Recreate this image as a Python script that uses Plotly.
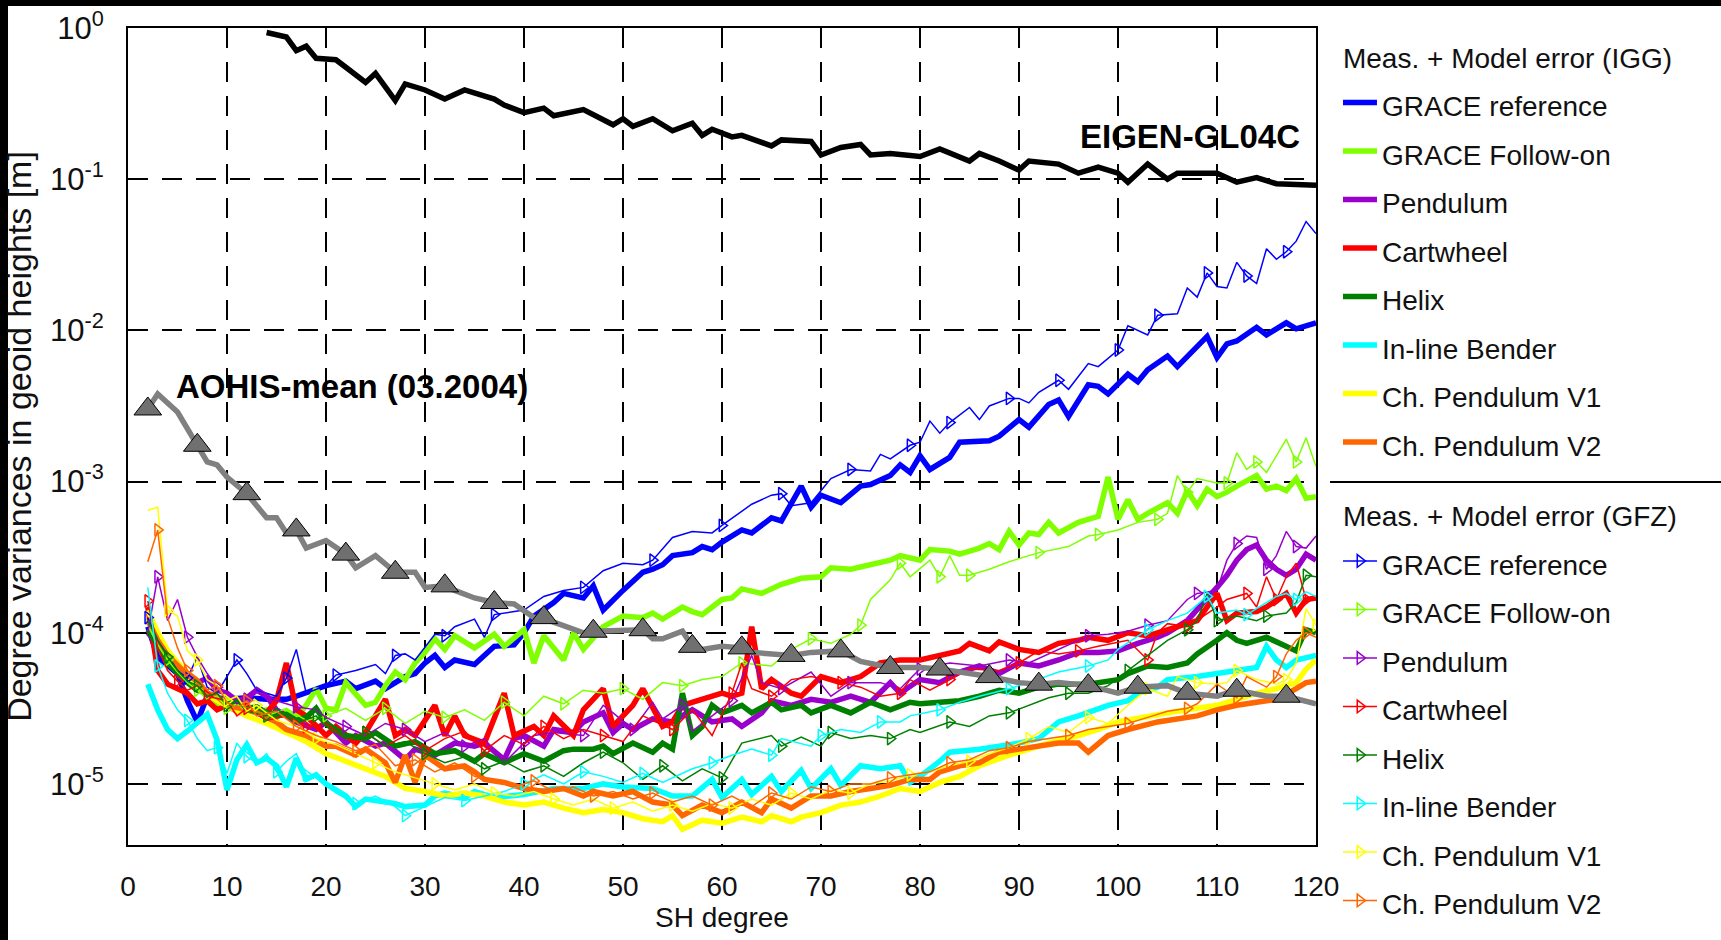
import plotly.graph_objects as go

# ---------------- data: (SH degree, log10 of degree variance in geoid heights [m]) ----------------
eigen_gl04c = [(14,-0.03),(16,-0.06),(17,-0.15),(18,-0.12),(19,-0.20),(21,-0.21),(22,-0.26),(24,-0.36),(25,-0.30),
    (27,-0.48),(28,-0.37),(30,-0.41),(32,-0.47),(34,-0.41),(37,-0.47),(38,-0.51),(40,-0.56),(42,-0.53),(43,-0.58),
    (46,-0.54),(49,-0.64),(50,-0.60),(51,-0.65),(53,-0.60),(55,-0.68),(57,-0.63),(58,-0.71),(59,-0.67),(61,-0.72),
    (62,-0.71),(65,-0.78),(66,-0.74),(69,-0.75),(70,-0.84),(72,-0.79),(74,-0.77),(75,-0.84),(77,-0.83),(80,-0.85),
    (82,-0.80),(85,-0.88),(86,-0.83),(88,-0.88),(90,-0.94),(91,-0.88),(94,-0.90),(96,-0.96),(98,-0.92),(100,-0.96),
    (101,-1.02),(103,-0.90),(105,-1.00),(106,-0.96),(110,-0.96),(112,-1.02),(114,-0.99),(116,-1.03),(120,-1.04)]

aohis_mean = [(2,-2.52),(3,-2.42),(5,-2.54),(7,-2.76),(8,-2.87),(9,-2.89),(10,-2.97),(12,-3.08),(13,-3.16),(14,-3.24),
    (15,-3.24),(16,-3.34),(17,-3.32),(18,-3.44),(20,-3.39),(22,-3.48),(23,-3.57),(25,-3.49),(27,-3.60),(29,-3.60),
    (30,-3.70),(32,-3.69),(33,-3.72),(35,-3.77),(37,-3.80),(39,-3.81),(41,-3.90),(42,-3.90),(43,-3.93),(45,-3.98),
    (46,-4.00),(47,-3.99),(50,-3.98),(52,-3.98),(53,-4.04),(54,-4.04),(56,-3.99),(57,-4.09),(58,-4.11),(60,-4.09),
    (62,-4.10),(63,-4.13),(67,-4.15),(69,-4.13),(72,-4.12),(74,-4.19),(77,-4.23),(80,-4.23),(82,-4.24),(84,-4.26),
    (87,-4.29),(90,-4.33),(92,-4.34),(94,-4.33),(97,-4.35),(100,-4.40),(102,-4.36),(105,-4.35),(107,-4.40),
    (110,-4.42),(112,-4.38),(115,-4.42),(117,-4.42),(120,-4.47)]

# IGG (thick lines)
igg_grace_ref = [(2,-3.96),(3,-4.16),(5,-4.27),(6,-4.45),(7,-4.59),(8,-4.42),(10,-4.44),(12,-4.43),(14,-4.44),(16,-4.44),
    (17,-4.42),(19,-4.37),(20,-4.35),(22,-4.32),(23,-4.37),(25,-4.32),(26,-4.37),(28,-4.29),(29,-4.27),(30,-4.20),
    (31,-4.15),(32,-4.23),(33,-4.18),(35,-4.21),(37,-4.09),(39,-4.08),(40,-4.00),(41,-3.89),(43,-3.80),(44,-3.74),
    (46,-3.77),(47,-3.69),(48,-3.85),(50,-3.72),(52,-3.60),(53,-3.58),(54,-3.55),(55,-3.49),(57,-3.47),(58,-3.43),
    (59,-3.45),(60,-3.40),(62,-3.32),(63,-3.34),(65,-3.24),(66,-3.26),(67,-3.15),(68,-3.03),(69,-3.17),(70,-3.09),
    (72,-3.14),(74,-3.03),(75,-3.02),(77,-2.96),(78,-2.89),(79,-2.94),(80,-2.83),(81,-2.92),(83,-2.84),(84,-2.74),
    (87,-2.73),(88,-2.70),(90,-2.59),(91,-2.64),(93,-2.49),(94,-2.46),(95,-2.57),(97,-2.36),(98,-2.37),(99,-2.42),
    (101,-2.29),(102,-2.34),(103,-2.26),(105,-2.17),(106,-2.24),(109,-2.04),(110,-2.18),(111,-2.09),(112,-2.07),
    (114,-1.98),(115,-2.03),(117,-1.95),(118,-1.99),(120,-1.95)]
igg_grace_fo = [(2,-3.90),(3,-4.02),(4,-4.12),(5,-4.22),(6,-4.30),(7,-4.36),(8,-4.40),(9,-4.47),(10,-4.44),(11,-4.50),
    (12,-4.48),(13,-4.53),(14,-4.51),(15,-4.56),(16,-4.52),(17,-4.56),(18,-4.48),(19,-4.37),(20,-4.50),(21,-4.51),
    (22,-4.33),(23,-4.40),(24,-4.48),(25,-4.46),(26,-4.35),(27,-4.26),(28,-4.31),(29,-4.20),(30,-4.13),(31,-4.04),
    (32,-4.11),(33,-4.02),(35,-4.10),(37,-4.01),(38,-4.09),(40,-3.98),(41,-4.20),(42,-4.02),(44,-4.18),(45,-4.00),
    (46,-4.11),(48,-3.96),(49,-3.93),(50,-3.89),(52,-3.90),(53,-3.87),(54,-3.91),(56,-3.83),(57,-3.86),(58,-3.88),
    (60,-3.78),(61,-3.77),(62,-3.71),(64,-3.74),(66,-3.68),(68,-3.64),(70,-3.63),(71,-3.57),(73,-3.58),(75,-3.55),
    (77,-3.52),(78,-3.49),(80,-3.52),(81,-3.45),(83,-3.46),(84,-3.48),(86,-3.44),(87,-3.41),(88,-3.45),(89,-3.33),
    (90,-3.42),(91,-3.34),(92,-3.35),(93,-3.27),(94,-3.34),(96,-3.27),(97,-3.25),(98,-3.23),(99,-2.97),(100,-3.25),
    (101,-3.12),(102,-3.25),(103,-3.21),(105,-3.14),(106,-3.21),(107,-3.06),(108,-3.16),(109,-3.05),(110,-3.10),
    (111,-3.07),(112,-3.03),(114,-2.96),(115,-3.05),(116,-3.03),(117,-3.06),(118,-2.98),(119,-3.11),(120,-3.10)]
igg_pendulum = [(2,-4.00),(3,-4.08),(4,-4.15),(5,-4.22),(6,-4.28),(7,-4.33),(8,-4.30),(9,-4.38),(10,-4.40),(11,-4.45),
    (12,-4.43),(13,-4.38),(14,-4.42),(15,-4.51),(16,-4.55),(17,-4.59),(19,-4.64),(20,-4.59),(22,-4.73),(23,-4.68),
    (25,-4.75),(26,-4.73),(28,-4.84),(29,-4.77),(31,-4.81),(32,-4.77),(33,-4.73),(35,-4.75),(36,-4.73),(38,-4.84),
    (39,-4.70),(40,-4.68),(42,-4.75),(43,-4.64),(45,-4.66),(46,-4.59),(48,-4.53),(49,-4.66),(50,-4.60),(51,-4.64),
    (53,-4.57),(55,-4.59),(57,-4.51),(59,-4.59),(61,-4.57),(62,-4.62),(64,-4.53),(65,-4.45),(67,-4.48),(69,-4.44),
    (71,-4.46),(73,-4.42),(75,-4.46),(77,-4.33),(78,-4.40),(80,-4.31),(82,-4.33),(84,-4.26),(86,-4.22),(88,-4.27),
    (90,-4.20),(92,-4.22),(94,-4.18),(96,-4.13),(98,-4.13),(100,-4.12),(102,-4.07),(104,-4.03),(105,-4.00),
    (107,-3.92),(108,-3.85),(109,-3.78),(110,-3.70),(111,-3.62),(112,-3.52),(113,-3.45),(114,-3.42),(115,-3.52),
    (116,-3.58),(117,-3.62),(118,-3.58),(119,-3.48),(120,-3.52)]
igg_cartwheel = [(2,-3.83),(3,-4.25),(4,-4.34),(6,-4.40),(7,-4.47),(8,-4.45),(9,-4.51),(10,-4.48),(11,-4.52),(12,-4.50),
    (13,-4.52),(14,-4.53),(15,-4.45),(16,-4.20),(17,-4.51),(18,-4.55),(20,-4.68),(21,-4.62),(23,-4.73),(24,-4.66),
    (26,-4.44),(27,-4.68),(28,-4.64),(29,-4.68),(31,-4.48),(32,-4.68),(33,-4.55),(34,-4.68),(36,-4.73),(38,-4.40),
    (39,-4.68),(41,-4.62),(42,-4.68),(43,-4.55),(45,-4.68),(46,-4.51),(48,-4.37),(49,-4.62),(51,-4.48),(52,-4.37),
    (54,-4.62),(55,-4.59),(56,-4.48),(58,-4.44),(60,-4.40),(61,-4.42),(62,-4.40),(63,-3.96),(64,-4.37),(65,-4.31),
    (67,-4.40),(68,-4.42),(70,-4.29),(72,-4.33),(74,-4.29),(76,-4.20),(78,-4.18),(80,-4.18),(82,-4.15),(84,-4.12),
    (85,-4.07),(87,-4.12),(88,-4.06),(90,-4.11),(92,-4.13),(94,-4.07),(96,-4.05),(97,-4.03),(99,-4.05),(101,-4.00),
    (103,-4.02),(105,-3.98),(107,-3.94),(108,-3.92),(110,-3.74),(111,-3.92),(112,-3.87),(114,-3.86),(115,-3.83),
    (116,-3.78),(117,-3.74),(118,-3.87),(119,-3.78),(120,-3.77)]
igg_helix = [(2,-3.98),(3,-4.08),(4,-4.20),(5,-4.27),(6,-4.33),(7,-4.38),(8,-4.40),(9,-4.45),(10,-4.47),(11,-4.46),
    (12,-4.50),(13,-4.49),(14,-4.53),(15,-4.55),(16,-4.54),(17,-4.58),(18,-4.56),(19,-4.50),(20,-4.60),(22,-4.68),
    (24,-4.70),(25,-4.66),(27,-4.75),(29,-4.72),(31,-4.80),(33,-4.78),(35,-4.85),(36,-4.80),(38,-4.86),(40,-4.80),
    (42,-4.85),(44,-4.78),(45,-4.77),(47,-4.77),(48,-4.75),(49,-4.80),(51,-4.73),(53,-4.79),(54,-4.73),(55,-4.77),
    (56,-4.40),(57,-4.68),(58,-4.62),(59,-4.48),(60,-4.53),(62,-4.48),(63,-4.53),(65,-4.46),(66,-4.51),(68,-4.48),
    (69,-4.53),(71,-4.48),(73,-4.53),(75,-4.46),(77,-4.51),(79,-4.46),(80,-4.47),(82,-4.46),(84,-4.45),(86,-4.42),
    (88,-4.38),(90,-4.40),(92,-4.36),(94,-4.34),(97,-4.34),(100,-4.31),(101,-4.27),(103,-4.22),(105,-4.23),
    (107,-4.20),(108,-4.14),(110,-4.05),(111,-4.00),(112,-4.05),(113,-4.07),(115,-4.03),(116,-4.06),(118,-4.12),
    (119,-3.98),(120,-4.00)]
igg_inline = [(2,-4.34),(3,-4.51),(4,-4.64),(5,-4.70),(6,-4.65),(7,-4.60),(8,-4.54),(9,-4.71),(10,-5.04),(11,-4.84),
    (12,-4.74),(13,-4.86),(14,-4.83),(15,-4.88),(16,-5.02),(17,-4.83),(18,-4.97),(19,-4.94),(20,-5.00),(21,-5.04),
    (22,-5.08),(23,-5.15),(24,-5.10),(26,-5.12),(27,-5.13),(28,-5.15),(30,-5.14),(31,-5.08),(32,-5.06),(34,-5.09),
    (35,-5.05),(37,-5.09),(40,-5.07),(43,-5.03),(46,-5.03),(48,-5.00),(50,-5.02),(53,-5.03),(55,-5.08),(57,-5.08),
    (59,-4.97),(60,-5.09),(62,-4.97),(63,-5.07),(65,-4.95),(66,-5.05),(68,-4.91),(69,-5.03),(71,-4.90),(72,-5.01),
    (74,-4.88),(76,-4.90),(78,-4.88),(79,-4.99),(80,-4.95),(82,-4.85),(83,-4.79),(86,-4.77),(88,-4.75),(90,-4.73),
    (92,-4.70),(94,-4.59),(96,-4.55),(99,-4.48),(101,-4.45),(102,-4.40),(104,-4.36),(105,-4.31),(108,-4.29),
    (110,-4.27),(112,-4.25),(114,-4.23),(115,-4.09),(116,-4.18),(117,-4.23),(118,-4.18),(120,-4.15)]
igg_chp_v1 = [(2,-3.85),(3,-4.00),(4,-4.12),(5,-4.20),(6,-4.28),(7,-4.35),(8,-4.40),(9,-4.45),(10,-4.48),(11,-4.52),
    (12,-4.55),(14,-4.60),(16,-4.66),(18,-4.72),(20,-4.80),(22,-4.85),(24,-4.90),(26,-4.95),(28,-5.03),(30,-5.05),
    (32,-5.08),(34,-5.06),(36,-5.08),(38,-5.12),(40,-5.14),(42,-5.12),(44,-5.16),(46,-5.19),(48,-5.17),(50,-5.19),
    (52,-5.23),(54,-5.25),(55,-5.21),(56,-5.30),(58,-5.24),(60,-5.26),(62,-5.22),(64,-5.25),(65,-5.21),(67,-5.25),
    (68,-5.22),(70,-5.19),(72,-5.14),(74,-5.12),(76,-5.08),(78,-5.03),(80,-5.05),(82,-4.99),(84,-4.95),(86,-4.88),
    (89,-4.81),(91,-4.77),(93,-4.73),(96,-4.68),(98,-4.64),(100,-4.59),(103,-4.55),(105,-4.53),(107,-4.51),
    (110,-4.48),(112,-4.44),(114,-4.40),(116,-4.37),(118,-4.33),(119,-4.24),(120,-4.18)]
igg_chp_v2 = [(2,-3.92),(3,-4.05),(4,-4.15),(5,-4.22),(6,-4.28),(7,-4.32),(8,-4.40),(9,-4.42),(10,-4.48),(12,-4.51),
    (13,-4.53),(15,-4.59),(16,-4.64),(18,-4.68),(20,-4.75),(21,-4.75),(23,-4.81),(24,-4.77),(26,-4.86),(27,-4.99),
    (28,-4.81),(29,-4.99),(30,-4.81),(32,-4.90),(34,-4.88),(35,-4.92),(36,-4.97),(38,-4.99),(40,-5.03),(42,-5.05),
    (44,-5.03),(46,-5.08),(47,-5.05),(49,-5.08),(51,-5.05),(53,-5.12),(55,-5.14),(56,-5.21),(58,-5.14),(60,-5.19),
    (62,-5.12),(64,-5.19),(65,-5.10),(67,-5.16),(69,-5.08),(71,-5.08),(73,-5.05),(75,-5.03),(77,-5.01),(79,-4.97),
    (81,-4.97),(82,-4.92),(84,-4.88),(86,-4.86),(88,-4.79),(90,-4.77),(92,-4.75),(94,-4.73),(96,-4.73),(97,-4.79),
    (99,-4.68),(101,-4.64),(104,-4.59),(106,-4.57),(108,-4.55),(110,-4.51),(112,-4.48),(114,-4.46),(116,-4.44),
    (118,-4.37),(119,-4.33),(120,-4.32)]

# GFZ (thin lines with markers)
gfz_grace_ref = [(2,-3.90),(3,-4.05),(4,-4.15),(5,-4.25),(6,-4.30),(7,-4.16),(8,-4.36),(9,-4.40),(11,-4.18),(12,-4.27),
    (13,-4.38),(15,-4.42),(16,-4.30),(17,-4.11),(18,-4.40),(20,-4.35),(21,-4.28),(23,-4.25),(25,-4.21),(26,-4.27),
    (27,-4.15),(28,-4.14),(29,-4.18),(31,-4.01),(32,-4.02),(33,-3.96),(35,-3.91),(36,-4.03),(37,-3.88),(40,-3.85),
    (42,-3.76),(44,-3.72),(46,-3.70),(48,-3.59),(50,-3.54),(52,-3.55),(53,-3.52),(55,-3.37),(57,-3.33),(59,-3.34),
    (60,-3.29),(62,-3.20),(63,-3.15),(65,-3.09),(66,-3.08),(67,-3.16),(69,-3.14),(71,-2.98),(73,-2.92),(75,-2.93),
    (76,-2.82),(77,-2.85),(79,-2.76),(80,-2.74),(81,-2.60),(82,-2.68),(83,-2.61),(85,-2.51),(86,-2.59),(87,-2.50),
    (89,-2.45),(90,-2.45),(91,-2.48),(92,-2.41),(94,-2.33),(95,-2.39),(97,-2.22),(98,-2.24),(100,-2.13),(101,-1.97),
    (102,-2.00),(103,-2.03),(104,-1.90),(106,-1.89),(107,-1.72),(108,-1.78),(109,-1.62),(110,-1.71),(111,-1.72),
    (112,-1.55),(113,-1.64),(114,-1.69),(115,-1.46),(116,-1.53),(117,-1.48),(118,-1.41),(119,-1.28),(120,-1.36)]
gfz_grace_fo = [(2,-3.95),(3,-4.08),(4,-4.18),(5,-4.26),(6,-4.33),(7,-4.38),(8,-4.44),(9,-4.42),(10,-4.50),(11,-4.47),
    (12,-4.52),(14,-4.55),(16,-4.50),(18,-4.58),(20,-4.55),(22,-4.50),(24,-4.58),(26,-4.50),(28,-4.60),(30,-4.52),
    (32,-4.56),(34,-4.51),(36,-4.58),(38,-4.46),(40,-4.55),(42,-4.42),(44,-4.47),(46,-4.38),(48,-4.40),(50,-4.37),
    (52,-4.44),(54,-4.33),(56,-4.35),(58,-4.31),(60,-4.29),(62,-4.20),(65,-4.22),(67,-4.11),(69,-4.04),(71,-4.07),
    (73,-4.01),(74,-3.95),(75,-3.78),(77,-3.65),(78,-3.54),(79,-3.63),(81,-3.52),(82,-3.63),(83,-3.49),(84,-3.62),
    (85,-3.62),(87,-3.58),(89,-3.53),(92,-3.47),(95,-3.43),(97,-3.36),(98,-3.35),(100,-3.32),(102,-3.27),(104,-3.25),
    (105,-3.21),(106,-2.96),(107,-3.07),(108,-2.98),(110,-3.01),(111,-3.01),(112,-2.81),(113,-2.92),(114,-2.87),
    (115,-2.94),(117,-2.72),(118,-2.87),(119,-2.71),(120,-2.90)]
gfz_pendulum = [(2,-4.00),(3,-3.63),(4,-3.92),(5,-3.78),(6,-4.03),(7,-4.16),(8,-4.27),(9,-4.36),(10,-4.40),(11,-4.47),
    (12,-4.44),(13,-4.36),(15,-4.45),(17,-4.49),(19,-4.51),(20,-4.56),(22,-4.62),(24,-4.68),(26,-4.60),(28,-4.64),
    (30,-4.72),(32,-4.66),(34,-4.75),(36,-4.70),(38,-4.86),(40,-4.73),(41,-4.68),(43,-4.66),(46,-4.68),(48,-4.48),
    (49,-4.53),(51,-4.64),(53,-4.46),(54,-4.57),(56,-4.48),(57,-4.65),(59,-4.55),(61,-4.45),(63,-4.15),(64,-4.33),
    (66,-4.37),(69,-4.26),(71,-4.42),(73,-4.33),(76,-4.33),(78,-4.37),(80,-4.24),(83,-4.20),(86,-4.22),(89,-4.18),
    (91,-4.20),(94,-4.11),(97,-4.02),(99,-4.01),(101,-3.99),(103,-3.95),(105,-3.92),(107,-3.78),(108,-3.74),
    (110,-3.72),(111,-3.52),(112,-3.41),(113,-3.36),(114,-3.37),(115,-3.58),(116,-3.49),(117,-3.33),(118,-3.43),
    (119,-3.44),(120,-3.36)]
gfz_cartwheel = [(2,-3.79),(3,-4.10),(4,-4.25),(5,-4.32),(6,-4.38),(7,-4.35),(8,-4.42),(10,-4.45),(11,-4.55),(12,-4.50),
    (14,-4.58),(16,-4.55),(18,-4.62),(20,-4.60),(22,-4.70),(24,-4.66),(26,-4.75),(28,-4.68),(30,-4.78),(32,-4.70),
    (34,-4.65),(36,-4.78),(38,-4.68),(40,-4.74),(42,-4.62),(44,-4.70),(46,-4.64),(48,-4.68),(50,-4.72),(52,-4.55),
    (55,-4.64),(57,-4.51),(59,-4.68),(61,-4.40),(62,-4.20),(63,-4.37),(65,-4.42),(67,-4.31),(69,-4.29),(72,-4.33),
    (74,-4.36),(76,-4.42),(78,-4.40),(79,-4.31),(81,-4.38),(83,-4.31),(85,-4.24),(88,-4.25),(90,-4.20),(92,-4.12),
    (94,-4.14),(96,-4.12),(98,-4.09),(101,-4.05),(103,-4.18),(104,-4.00),(105,-3.94),(107,-3.96),(110,-3.83),
    (111,-3.78),(113,-3.74),(114,-3.83),(115,-3.63),(116,-3.78),(117,-3.63),(118,-3.54),(119,-3.78),(120,-3.76)]
gfz_helix = [(2,-3.92),(3,-4.05),(4,-4.16),(5,-4.25),(6,-4.32),(7,-4.35),(8,-4.42),(9,-4.40),(10,-4.48),(11,-4.45),
    (12,-4.52),(14,-4.55),(15,-4.50),(17,-4.60),(19,-4.55),(20,-4.62),(22,-4.70),(24,-4.66),(26,-4.75),(28,-4.72),
    (30,-4.80),(32,-4.86),(34,-4.82),(36,-4.90),(38,-4.85),(40,-4.92),(42,-4.88),(44,-4.95),(46,-4.86),(48,-4.79),
    (50,-4.86),(52,-4.97),(54,-4.88),(56,-4.98),(58,-4.90),(60,-4.96),(62,-4.73),(65,-4.68),(66,-4.75),(68,-4.69),
    (70,-4.75),(71,-4.66),(73,-4.70),(75,-4.68),(77,-4.70),(79,-4.64),(80,-4.66),(83,-4.59),(85,-4.62),(87,-4.55),
    (89,-4.53),(91,-4.48),(93,-4.43),(95,-4.40),(97,-4.40),(99,-4.35),(101,-4.25),(103,-4.15),(105,-4.05),
    (107,-3.98),(108,-3.92),(109,-3.74),(110,-3.92),(112,-3.89),(114,-3.92),(115,-3.89),(117,-3.87),(118,-3.80),
    (119,-3.62),(120,-3.63)]
gfz_inline = [(2,-3.70),(3,-4.22),(4,-4.40),(5,-4.51),(6,-4.58),(7,-4.70),(8,-4.78),(9,-4.76),(10,-4.93),(11,-4.73),
    (12,-4.82),(13,-4.86),(14,-4.80),(15,-4.92),(16,-4.85),(17,-4.80),(18,-4.94),(19,-4.96),(21,-5.06),(23,-5.13),
    (25,-5.08),(27,-5.15),(28,-5.21),(30,-5.15),(32,-5.09),(34,-5.11),(36,-5.08),(38,-5.05),(40,-5.00),(42,-4.94),
    (44,-5.00),(46,-4.92),(48,-4.95),(50,-4.99),(52,-4.93),(54,-4.99),(57,-4.90),(59,-4.86),(61,-4.81),(63,-4.77),
    (65,-4.81),(66,-4.70),(69,-4.75),(70,-4.68),(72,-4.64),(74,-4.66),(76,-4.59),(78,-4.59),(79,-4.55),(82,-4.51),
    (84,-4.46),(86,-4.42),(89,-4.37),(91,-4.33),(94,-4.26),(97,-4.22),(99,-4.18),(100,-4.11),(103,-3.98),
    (105,-3.92),(107,-3.87),(109,-3.76),(110,-3.87),(112,-3.85),(113,-3.88),(116,-3.76),(117,-3.74),(118,-3.78),
    (119,-3.73),(120,-3.76)]
gfz_chp_v1 = [(2,-3.19),(3,-3.17),(4,-3.85),(5,-3.89),(6,-4.12),(7,-4.18),(8,-4.31),(9,-4.35),(10,-4.45),(11,-4.42),
    (12,-4.52),(13,-4.48),(15,-4.58),(17,-4.62),(19,-4.70),(21,-4.74),(23,-4.80),(25,-4.86),(27,-4.92),(29,-4.96),
    (31,-5.00),(33,-5.04),(35,-5.00),(37,-5.06),(39,-5.08),(41,-5.05),(43,-5.10),(45,-5.14),(47,-5.10),(49,-5.16),
    (51,-5.12),(53,-5.18),(55,-5.14),(57,-5.18),(59,-5.13),(61,-5.16),(63,-5.10),(65,-5.14),(67,-5.06),(69,-5.10),
    (71,-5.04),(73,-5.06),(75,-5.00),(77,-4.98),(79,-4.94),(81,-4.92),(83,-4.88),(85,-4.85),(87,-4.80),(89,-4.76),
    (91,-4.70),(93,-4.62),(95,-4.66),(97,-4.56),(99,-4.60),(101,-4.48),(103,-4.37),(105,-4.42),(106,-4.29),
    (108,-4.33),(110,-4.34),(111,-4.33),(112,-4.25),(114,-4.31),(116,-4.34),(117,-4.31),(118,-4.20),(119,-3.84),
    (120,-3.95)]
gfz_chp_v2 = [(2,-3.53),(3,-3.32),(4,-3.90),(5,-4.10),(6,-4.25),(7,-4.30),(8,-4.38),(9,-4.35),(10,-4.46),(11,-4.50),
    (12,-4.45),(13,-4.55),(15,-4.52),(17,-4.62),(19,-4.68),(21,-4.72),(23,-4.78),(25,-4.74),(27,-4.88),(29,-4.84),
    (31,-4.92),(33,-4.86),(35,-4.95),(37,-4.98),(39,-5.02),(41,-4.98),(43,-5.05),(45,-5.02),(47,-5.08),(49,-5.05),
    (51,-5.10),(53,-5.06),(55,-5.12),(57,-5.08),(59,-5.14),(61,-5.08),(63,-5.15),(65,-5.06),(67,-5.10),(69,-5.02),
    (71,-5.05),(73,-5.00),(75,-5.00),(77,-4.96),(79,-4.94),(81,-4.92),(83,-4.86),(85,-4.84),(87,-4.78),(89,-4.76),
    (91,-4.72),(93,-4.70),(95,-4.68),(97,-4.64),(99,-4.62),(101,-4.60),(103,-4.56),(105,-4.52),(107,-4.50),
    (108,-4.47),(110,-4.34),(112,-4.43),(113,-4.29),(115,-4.36),(116,-4.29),(117,-4.14),(118,-4.05),(119,-4.00),
    (120,-4.03)]

series_names = ["GRACE reference", "GRACE Follow-on", "Pendulum", "Cartwheel", "Helix",
                "In-line Bender", "Ch. Pendulum V1", "Ch. Pendulum V2"]
series_colors = ["#0000FF", "#80FF00", "#9900CC", "#FF0000", "#008000", "#00FFFF", "#FFFF00", "#FF6600"]
igg_series = [igg_grace_ref, igg_grace_fo, igg_pendulum, igg_cartwheel, igg_helix, igg_inline, igg_chp_v1, igg_chp_v2]
gfz_series = [gfz_grace_ref, gfz_grace_fo, gfz_pendulum, gfz_cartwheel, gfz_helix, gfz_inline, gfz_chp_v1, gfz_chp_v2]

y_ticks = [1, 0.1, 0.01, 0.001, 0.0001, 0.00001]
y_ticktext = ["10<sup>0</sup>", "10<sup>-1</sup>", "10<sup>-2</sup>", "10<sup>-3</sup>", "10<sup>-4</sup>", "10<sup>-5</sup>"]
x_ticks = [0, 10, 20, 30, 40, 50, 60, 70, 80, 90, 100, 110, 120]

FONT = "Liberation Sans, Arial, sans-serif"
LEG_TXT = 28   # visible legend text size
LEG_ROW = 35   # legend font size that sets the row pitch


def xy(pairs):
    return [p[0] for p in pairs], [10 ** p[1] for p in pairs]


def small(t):
    return '<span style="font-size:%dpx">%s</span>' % (LEG_TXT, t)


fig = go.Figure()

for i, (name, col, s) in enumerate(zip(series_names, series_colors, igg_series)):
    x, y = xy(s)
    fig.add_trace(go.Scatter(
        x=x, y=y, mode="lines", name=small(name), line=dict(color=col, width=5.5),
        legendgroup="igg",
        legendgrouptitle=dict(text=small("Meas. + Model error (IGG)"), font=dict(size=LEG_ROW, color="#111", family=FONT)) if i == 0 else None,
    ))

for i, (name, col, s) in enumerate(zip(series_names, series_colors, gfz_series)):
    x, y = xy(s)
    fig.add_trace(go.Scatter(
        x=x, y=y, mode="lines+markers", name=small(name),
        line=dict(color=col, width=1.5),
        marker=dict(symbol="triangle-right-open", size=11, color=col, line=dict(width=1.5, color=col), maxdisplayed=26),
        legendgroup="gfz",
        legendgrouptitle=dict(text=small("Meas. + Model error (GFZ)"), font=dict(size=LEG_ROW, color="#111", family=FONT)) if i == 0 else None,
    ))

# AOHIS mean (grey line with triangles every 5 degrees)
ax, ay = xy(aohis_mean)
fig.add_trace(go.Scatter(x=ax, y=ay, mode="lines", line=dict(color="#808080", width=5.5), showlegend=False,
                         hoverinfo="skip"))
mk = [p for p in aohis_mean if (p[0] - 2) % 5 == 0]
mx, my = xy(mk)
fig.add_trace(go.Scatter(x=mx, y=my, mode="markers", showlegend=False,
                         marker=dict(symbol="triangle-up", size=24, color="#707070", line=dict(color="#000", width=1))))

# EIGEN-GL04C
ex, ey = xy(eigen_gl04c)
fig.add_trace(go.Scatter(x=ex, y=ey, mode="lines", line=dict(color="#000000", width=5.5), showlegend=False))

grid = dict(showgrid=True, gridcolor="#000", gridwidth=1.5, griddash="20px,14px",
            showline=True, linecolor="#000", linewidth=2, mirror=True, ticks="", zeroline=False)

fig.update_layout(
    width=1721, height=940,
    margin=dict(l=128, r=405, t=28, b=95, autoexpand=False),
    paper_bgcolor="white", plot_bgcolor="white",
    font=dict(family=FONT, size=28, color="#111"),
    xaxis=dict(range=[0, 120], tickvals=x_ticks, tickfont=dict(size=28), ticklabelstandoff=15,
               title=dict(text="SH degree", font=dict(size=28), standoff=6), **grid),
    yaxis=dict(type="log", range=[-5.404, 0], tickvals=y_ticks, ticktext=y_ticktext,
               tickfont=dict(size=31), ticklabelstandoff=16,
               title=dict(text="Degree variances in geoid heights [m]", font=dict(size=34), standoff=12), **grid),
    legend=dict(x=1.0185, xanchor="left", y=1.004, yanchor="top", font=dict(size=LEG_ROW, family=FONT, color="#111"),
                bgcolor="rgba(0,0,0,0)", tracegroupgap=22, traceorder="grouped", itemwidth=34, maxheight=935),
    showlegend=True,
)

fig.add_annotation(x=0.894, y=0.8666, xref="paper", yref="paper", xanchor="center", yanchor="middle",
                   text="<b>EIGEN-GL04C</b>", showarrow=False, font=dict(family=FONT, size=33, color="#000"))
fig.add_annotation(x=0.1886, y=0.5618, xref="paper", yref="paper", xanchor="center", yanchor="middle",
                   text="<b>AOHIS-mean (03.2004)</b>", showarrow=False, font=dict(family=FONT, size=33, color="#000"))

# divider between legend groups and black edge strips of the original image
fig.add_shape(type="line", xref="paper", yref="paper", x0=1.0118, x1=1.341, y0=0.4443, y1=0.4443,
              line=dict(color="#000", width=2))
fig.add_shape(type="rect", xref="paper", yref="paper", x0=-0.1078, x1=-0.1010, y0=-0.1163, y1=1.0343,
              fillcolor="#000", line=dict(width=0), layer="above")
fig.add_shape(type="rect", xref="paper", yref="paper", x0=-0.1078, x1=1.341, y0=1.0269, y1=1.0343,
              fillcolor="#000", line=dict(width=0), layer="above")

fig.write_html("out.html")
